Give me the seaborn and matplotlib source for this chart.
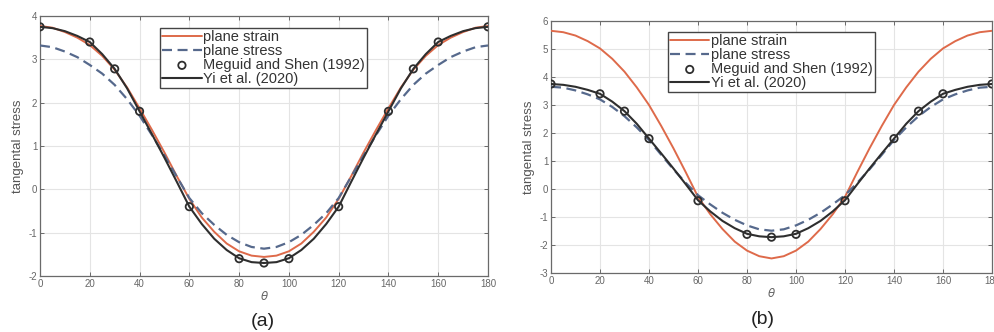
import numpy as np
import pandas as pd
import matplotlib
matplotlib.use("Agg")
import matplotlib.pyplot as plt
import seaborn as sns

sns.set_theme(style="white")
plt.rcParams['font.family'] = ['Liberation Sans', 'DejaVu Sans']

# ---------------- data ----------------
theta = [0, 5, 10, 15, 20, 25, 30, 35, 40, 45, 50, 55, 60, 65, 70, 75, 80, 85, 90,
         95, 100, 105, 110, 115, 120, 125, 130, 135, 140, 145, 150, 155, 160, 165, 170, 175, 180]

# panel (a)
a_strain = [3.77, 3.73, 3.63, 3.50, 3.33, 3.08, 2.76, 2.35, 1.87, 1.37, 0.85, 0.30, -0.22, -0.65, -0.98, -1.25, -1.43, -1.53, -1.56,
            -1.53, -1.43, -1.25, -0.98, -0.65, -0.22, 0.30, 0.85, 1.37, 1.87, 2.35, 2.76, 3.08, 3.33, 3.50, 3.63, 3.73, 3.77]
a_stress = [3.32, 3.28, 3.18, 3.05, 2.87, 2.67, 2.41, 2.08, 1.70, 1.25, 0.78, 0.29, -0.20, -0.55, -0.82, -1.05, -1.22, -1.33, -1.37,
            -1.33, -1.22, -1.05, -0.82, -0.55, -0.20, 0.29, 0.78, 1.25, 1.70, 2.08, 2.41, 2.67, 2.87, 3.05, 3.18, 3.28, 3.32]
a_yi = [3.75, 3.72, 3.65, 3.54, 3.40, 3.12, 2.78, 2.33, 1.80, 1.27, 0.73, 0.17, -0.40, -0.80, -1.14, -1.40, -1.59, -1.68, -1.70,
        -1.68, -1.59, -1.40, -1.14, -0.80, -0.40, 0.17, 0.73, 1.27, 1.80, 2.33, 2.78, 3.12, 3.40, 3.54, 3.65, 3.72, 3.75]

# panel (b)
b_strain = [5.65, 5.60, 5.48, 5.28, 5.02, 4.65, 4.19, 3.63, 3.00, 2.25, 1.45, 0.60, -0.28, -0.90, -1.43, -1.88, -2.20, -2.40, -2.48,
            -2.40, -2.20, -1.88, -1.43, -0.90, -0.28, 0.60, 1.45, 2.25, 3.00, 3.63, 4.19, 4.65, 5.02, 5.28, 5.48, 5.60, 5.65]
b_stress = [3.65, 3.62, 3.52, 3.38, 3.20, 2.93, 2.60, 2.20, 1.75, 1.22, 0.70, 0.22, -0.22, -0.55, -0.85, -1.10, -1.30, -1.44, -1.49,
            -1.44, -1.30, -1.10, -0.85, -0.55, -0.22, 0.22, 0.70, 1.22, 1.75, 2.20, 2.60, 2.93, 3.20, 3.38, 3.52, 3.62, 3.65]
b_yi = [3.75, 3.72, 3.65, 3.54, 3.40, 3.12, 2.78, 2.33, 1.80, 1.27, 0.73, 0.17, -0.40, -0.80, -1.14, -1.40, -1.60, -1.69, -1.72,
        -1.69, -1.60, -1.40, -1.14, -0.80, -0.40, 0.17, 0.73, 1.27, 1.80, 2.33, 2.78, 3.12, 3.40, 3.54, 3.65, 3.72, 3.75]

meguid_theta = [0, 20, 30, 40, 60, 80, 90, 100, 120, 140, 150, 160, 180]
a_meguid = [3.75, 3.40, 2.78, 1.80, -0.40, -1.60, -1.70, -1.60, -0.40, 1.80, 2.78, 3.40, 3.75]
b_meguid = [3.75, 3.40, 2.78, 1.80, -0.42, -1.62, -1.72, -1.62, -0.42, 1.80, 2.78, 3.40, 3.75]

x_ticks = [0, 20, 40, 60, 80, 100, 120, 140, 160, 180]
a_yticks = [-2, -1, 0, 1, 2, 3, 4]
b_yticks = [-3, -2, -1, 0, 1, 2, 3, 4, 5, 6]

RED = "#de6a4a"
BLUE = "#56698c"
BLACK = "#2e2e2e"

fig = plt.figure(figsize=(9.94, 3.32), dpi=100)
ax_a = fig.add_axes([40/994, 1-276/332, 448/994, 260/332])
ax_b = fig.add_axes([551/994, 1-273/332, 441/994, 252/332])


def draw(ax, strain, stress, yi, meg, yticks, leg_anchor):
    df = pd.DataFrame({"theta": theta, "strain": strain, "stress": stress, "yi": yi})
    dm = pd.DataFrame({"theta": meguid_theta, "meg": meg})
    sns.lineplot(data=df, x="theta", y="strain", ax=ax, color=RED, lw=1.4,
                 label="plane strain", zorder=3)
    sns.lineplot(data=df, x="theta", y="stress", ax=ax, color=BLUE, lw=1.6,
                 label="plane stress", zorder=3, dashes=False)
    ax.lines[-1].set_dashes((4.5, 2.5))
    sns.scatterplot(data=dm, x="theta", y="meg", ax=ax, marker="o", s=28,
                    facecolor="none", edgecolor=BLACK, linewidth=1.3,
                    label="Meguid and Shen (1992)", zorder=5)
    sns.lineplot(data=df, x="theta", y="yi", ax=ax, color=BLACK, lw=1.5,
                 label="Yi et al. (2020)", zorder=4)
    ax.set_xlim(0, 180)
    ax.set_ylim(yticks[0], yticks[-1])
    ax.set_xticks(x_ticks)
    ax.set_yticks(yticks)
    ax.set_xticklabels([str(v) for v in x_ticks])
    ax.set_yticklabels([str(v) for v in yticks])
    ax.grid(True, color="#e4e4e4", lw=0.8)
    ax.set_axisbelow(True)
    for sp in ax.spines.values():
        sp.set_color("#6a6a6a")
        sp.set_linewidth(0.9)
        sp.set_visible(True)
    ax.tick_params(direction="in", length=3, width=0.7, color="#6a6a6a",
                   labelsize=7, labelcolor="#666666", top=True, right=True,
                   bottom=True, left=True, pad=2)
    ax.set_xlabel(r"$\theta$", fontsize=8.5, color="#666666", labelpad=1)
    ax.set_ylabel("tangental stress", fontsize=9.5, color="#555555", labelpad=3)
    leg = ax.legend(loc="upper left", bbox_to_anchor=leg_anchor, fontsize=10.5,
                    frameon=True, fancybox=False, edgecolor="#444444",
                    borderpad=0.15, labelspacing=0.0, handlelength=2.7,
                    handletextpad=0.1, borderaxespad=0.0, framealpha=1)
    leg.get_frame().set_linewidth(1.0)
    for t in leg.get_texts():
        t.set_color("#333333")


draw(ax_a, a_strain, a_stress, a_yi, a_meguid, a_yticks, (0.268, 0.954))
draw(ax_b, b_strain, b_stress, b_yi, b_meguid, b_yticks, (0.265, 0.956))

fig.text(263/994, 1-322/332, "(a)", ha="center", va="center", fontsize=14, color="#222222")
fig.text(763/994, 1-320/332, "(b)", ha="center", va="center", fontsize=14, color="#222222")

fig.savefig("out.png", dpi=100, facecolor="white")
